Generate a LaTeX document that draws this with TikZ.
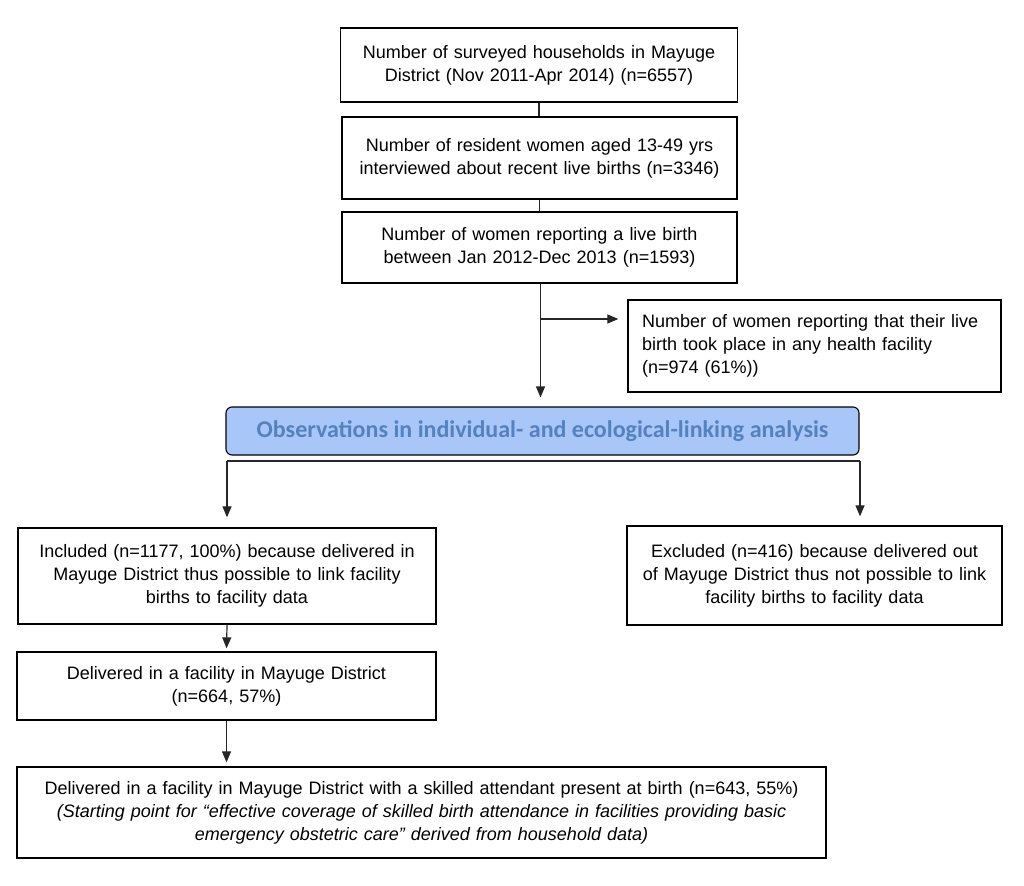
\documentclass[tikz,border=0pt]{standalone}
\usepackage{fontspec}
\setmainfont{Liberation Sans}
\newfontfamily\calib{Carlito}
\usetikzlibrary{arrows.meta}
\definecolor{bluefill}{RGB}{168,198,248}
\definecolor{bluetext}{RGB}{84,130,190}
\tikzset{
  box/.style={draw=black, line width=1.3pt, inner sep=0pt, align=center,
    font=\fontsize{18}{23}\selectfont},
  conn/.style={draw=black!85, line width=1.2pt},
  arr/.style={conn, -{Triangle[length=11pt,width=9pt]}},
}
\begin{document}
\begin{tikzpicture}[x=1pt,y=-1pt]
\useasboundingbox (0,0) rectangle (1024,885);
% top chain
\node[box, minimum width=397, minimum height=74, text width=380] (b1) at (539,65)
  {Number of surveyed households in Mayuge\\District (Nov 2011-Apr 2014) (n=6557)};
\node[box, minimum width=395, minimum height=82, text width=380] (b2) at (539.5,158)
  {Number of resident women aged 13-49 yrs\\interviewed about recent live births (n=3346)};
\node[box, minimum width=395, minimum height=71, text width=380] (b3) at (539.5,247.5)
  {Number of women reporting a live birth\\between Jan 2012-Dec 2013 (n=1593)};
\node[box, minimum width=373, minimum height=92, text width=345, align=left] (side) at (814.5,346)
  {Number of women reporting that their live\\birth took place in any health facility\\(n=974 (61\%))};
\node[draw=black, line width=1.1pt, fill=bluefill, rounded corners=6pt, minimum width=633,
  minimum height=48, inner sep=0pt, font=\calib\bfseries\fontsize{24}{28}\selectfont,
  text=bluetext] (blue) at (542.5,431)
  {Observations in individual- and ecological-linking analysis};
% lower part
\node[box, minimum width=418, minimum height=96, text width=405] (incl) at (227,576)
  {Included (n=1177, 100\%) because delivered in\\Mayuge District thus possible to link facility\\births to facility data};
\node[box, minimum width=375, minimum height=99, text width=360] (excl) at (814.5,575.5)
  {Excluded (n=416) because delivered out\\of Mayuge District thus not possible to link\\facility births to facility data};
\node[box, minimum width=419, minimum height=68, text width=405] (deliv) at (226.5,686)
  {Delivered in a facility in Mayuge District\\(n=664, 57\%)};
\node[box, minimum width=809, minimum height=91, text width=790] (final) at (421.5,812.5)
  {Delivered in a facility in Mayuge District with a skilled attendant present at birth (n=643, 55\%)\\
   \itshape (Starting point for “effective coverage of skilled birth attendance in facilities providing basic\\
   \itshape emergency obstetric care” derived from household data)};
% connectors
\draw[conn] (b1.south) -- (b1.south |- b2.north);
\draw[conn] (b2.south) -- (b2.south |- b3.north);
\coordinate (br) at (540.5,319);
\coordinate (hl) at (227,461);
\coordinate (hr) at (860,461);
\draw[arr, shorten >=9pt] (b3.south -| br) -- (br |- blue.north);
\draw[arr, shorten >=9pt] (br) -- (side.west |- br);
\draw[conn] (hl) -- (hr);
\draw[arr, shorten >=10pt] (hl) -- (hl |- incl.north);
\draw[arr, shorten >=9pt] (hr) -- (hr |- excl.north);
\draw[arr, shorten >=3pt] (incl.south) -- (deliv.north);
\draw[arr, shorten >=4pt] (deliv.south) -- (deliv.south |- final.north);
\end{tikzpicture}
\end{document}
